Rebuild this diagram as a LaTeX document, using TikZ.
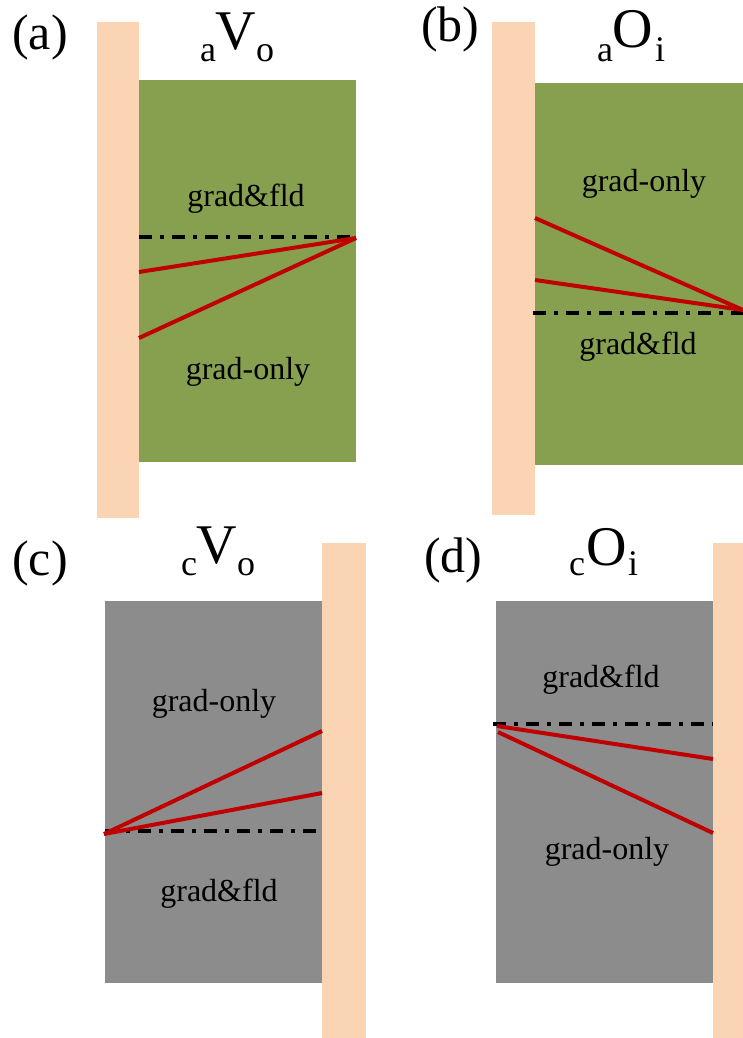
\documentclass[tikz,border=0pt]{standalone}
\usepackage{fontspec}
\setmainfont{Liberation Serif}
\definecolor{peach}{HTML}{FBD4B4}
\definecolor{olive}{HTML}{87A050}
\definecolor{grayfill}{HTML}{8C8C8C}
\definecolor{dred}{HTML}{C00000}
\tikzset{
  wall/.style={fill=peach,draw=none},
  greenbox/.style={fill=olive,draw=none},
  graybox/.style={fill=grayfill,draw=none},
  profile/.style={draw=dred,line width=4pt},
  refline/.style={draw=black,line width=3.5pt,dash pattern=on 13pt off 8pt on 4pt off 8pt},
  region/.style={inner sep=0pt,font=\fontsize{32}{32}\selectfont},
  panel/.style={inner sep=0pt,anchor=base west,font=\fontsize{50}{50}\selectfont},
  big/.style={inner sep=0pt,anchor=base west,font=\fontsize{56}{56}\selectfont},
  small/.style={inner sep=0pt,anchor=base west,font=\fontsize{36}{36}\selectfont}
}
\begin{document}
\begin{tikzpicture}[x=1pt,y=-1pt]
\useasboundingbox (0,0) rectangle (743,1038);
% ---------- (a)
\fill[wall] (97,22) rectangle (139,518);
\fill[greenbox] (139,80) rectangle (356,462);
\coordinate (aL) at (139,237);
\coordinate (aR) at (356,237);
\coordinate (aP) at (356,238);
\coordinate (aA) at (139,272);
\coordinate (aB) at (139,338);
\draw[refline] (aL) -- (aR);
\draw[profile] (aA) -- (aP);
\draw[profile] (aB) -- (aP);
\node[region] (a1) at (246,198.5) {grad\&fld};
\node[region] (a2) at (248,371.5) {grad-only};
\node[panel] (alab) at (12,50) {(a)};
\node[small] (at1) at (200,62) {a};
\node[big] (at2) at (215,50) {V};
\node[small] (at3) at (256,62) {o};
% ---------- (b)
\fill[wall] (492,22) rectangle (535,515);
\fill[greenbox] (535,83) rectangle (743,465);
\coordinate (bL) at (533,313);
\coordinate (bR) at (743,313);
\coordinate (bP) at (743,310);
\coordinate (bA) at (535,218);
\coordinate (bB) at (535,280);
\draw[refline] (bL) -- (bR);
\draw[profile] (bA) -- (bP);
\draw[profile] (bB) -- (bP);
\node[region] (b1) at (644,183.5) {grad-only};
\node[region] (b2) at (638,346.5) {grad\&fld};
\node[panel] (blab) at (421,42) {(b)};
\node[small] (bt1) at (597,62) {a};
\node[big] (bt2) at (612,48) {O};
\node[small] (bt3) at (655,62) {i};
% ---------- (c)
\fill[graybox] (105,601) rectangle (322,983);
\fill[wall] (322,543) rectangle (366,1038);
\coordinate (cL) at (105,831);
\coordinate (cR) at (322,831);
\coordinate (cP) at (104,834);
\coordinate (cA) at (322,731);
\coordinate (cB) at (322,793);
\draw[refline] (cL) -- (cR);
\draw[profile] (cA) -- (cP);
\draw[profile] (cB) -- (cP);
\node[region] (c1) at (214,704) {grad-only};
\node[region] (c2) at (219,893.5) {grad\&fld};
\node[panel] (clab) at (12,575) {(c)};
\node[small] (ct1) at (181,575) {c};
\node[big] (ct2) at (196,563) {V};
\node[small] (ct3) at (237,575) {o};
% ---------- (d)
\fill[graybox] (496,601) rectangle (713,983);
\fill[wall] (713,543) rectangle (743,1038);
\coordinate (dL) at (493,724);
\coordinate (dR) at (713,724);
\coordinate (dP1) at (497,726);
\coordinate (dP2) at (498,732);
\coordinate (dA) at (713,759);
\coordinate (dB) at (713,833);
\draw[refline] (dL) -- (dR);
\draw[profile] (dA) -- (dP1);
\draw[profile] (dB) -- (dP2);
\node[region] (d1) at (601,679.5) {grad\&fld};
\node[region] (d2) at (607,851.5) {grad-only};
\node[panel] (dlab) at (424,572) {(d)};
\node[small] (dt1) at (569,575) {c};
\node[big] (dt2) at (586,565) {O};
\node[small] (dt3) at (628,575) {i};
\end{tikzpicture}
\end{document}
